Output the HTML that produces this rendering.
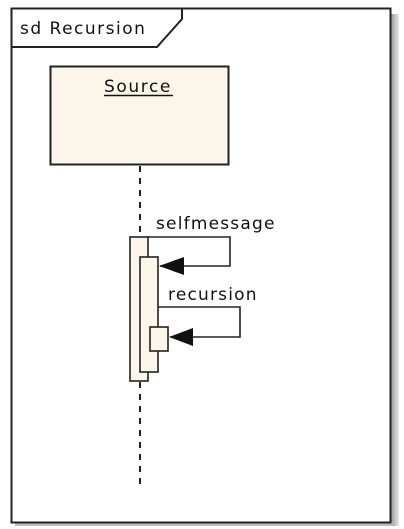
<!DOCTYPE html>
<html><head><meta charset="utf-8"><style>
html,body{margin:0;padding:0;background:#fff;}
svg{display:block;}
text{font-family:"DejaVu Sans","Liberation Sans",sans-serif;font-size:17px;letter-spacing:1.2px;fill:#111;}
</style></head><body>
<svg width="404" height="529" viewBox="0 0 404 529" xmlns="http://www.w3.org/2000/svg">
<defs>
<linearGradient id="sh" x1="0" x2="1" y1="0" y2="0">
<stop offset="0" stop-color="#9a9a9a"/><stop offset="1" stop-color="#e8e8e8"/>
</linearGradient>
</defs>
<rect x="391" y="14" width="8" height="512" fill="url(#sh)"/>
<rect x="15" y="522" width="378" height="4" fill="#bbb"/>
<rect x="11.5" y="8.5" width="379" height="514" fill="#fff" stroke="#222" stroke-width="2"/>
<polyline points="11.5,47 157,47 182,19 182,8.5" fill="none" stroke="#222" stroke-width="2"/>
<text x="20" y="34" style="letter-spacing:1.5px">sd Recursion</text>
<rect x="50.5" y="66.5" width="178" height="98" fill="#fcf6ea" stroke="#222" stroke-width="2"/>
<text x="104" y="92" style="letter-spacing:1.6px">Source</text>
<line x1="104" y1="95.5" x2="173" y2="95.5" stroke="#111" stroke-width="1.5"/>
<line x1="140" y1="166" x2="140" y2="484" stroke="#222" stroke-width="2" stroke-dasharray="6,6"/>
<rect x="130" y="237" width="18" height="144" fill="#fcf6ea" stroke="#222" stroke-width="1.6"/>
<rect x="140" y="257" width="18" height="115" fill="#fcf6ea" stroke="#222" stroke-width="1.6"/>
<rect x="150" y="327" width="18" height="24" fill="#fcf6ea" stroke="#222" stroke-width="1.6"/>
<polyline points="148,237 230,237 230,266 160,266" fill="none" stroke="#222" stroke-width="1.6"/>
<polygon points="159,266 184,257 184,275" fill="#111"/>
<polyline points="158,307 240,307 240,337 170,337" fill="none" stroke="#222" stroke-width="1.6"/>
<polygon points="169,337 193,328 193,346" fill="#111"/>
<text x="156" y="229">selfmessage</text>
<text x="168" y="300">recursion</text>
</svg>
</body></html>
